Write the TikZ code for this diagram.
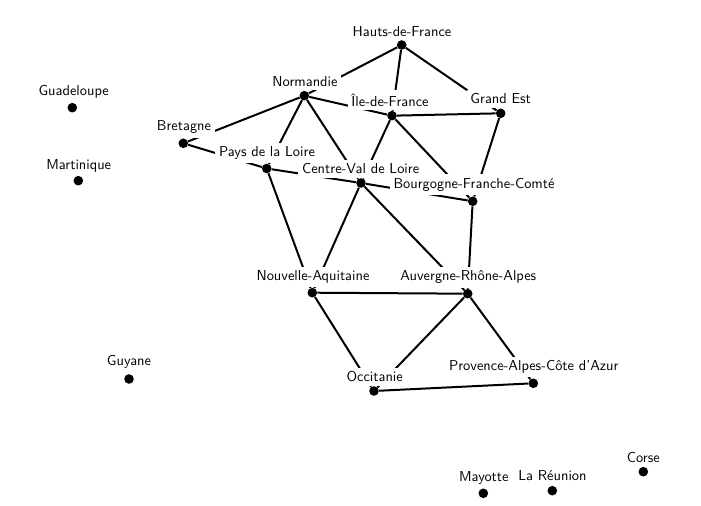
\documentclass[tikz,border=0pt]{standalone}
\usepackage{fontspec}
\pgfdeclarelayer{background}
\pgfdeclarelayer{foreground}
\pgfsetlayers{background,main,foreground}
\newcommand\regionpt[6]{%
  \begin{pgfonlayer}{foreground}
  \node[regiondot] (#1) at (#2,#3) {};
  \end{pgfonlayer}
  \node[regionlabel] (#1-lab) at (#4,#5) {#6};}
\begin{document}
\begin{tikzpicture}[x=0.75pt,y=-0.75pt,
  regiondot/.style={circle,fill=black,inner sep=0pt,minimum size=7.2pt},
  regionlabel/.style={fill=white,font=\sffamily\fontsize{10.8}{13}\selectfont,anchor=base,inner sep=2.8pt},
  link/.style={line width=1.5pt}]
\useasboundingbox (0,0) rectangle (701,506);
\regionpt{hdf}{401.7}{45}{402}{36.5}{Hauts-de-France}
\regionpt{nor}{304.3}{95.7}{305}{86.5}{Normandie}
\regionpt{idf}{392}{115.7}{390}{106.5}{Île-de-France}
\regionpt{ge}{500.7}{113.3}{500.7}{104}{Grand Est}
\regionpt{bre}{183.3}{143.3}{184}{131}{Bretagne}
\regionpt{pdl}{266.7}{168.5}{267}{156.7}{Pays de la Loire}
\regionpt{cvl}{361}{183}{360.7}{174}{Centre-Val de Loire}
\regionpt{bfc}{472.7}{201.3}{474}{188.3}{Bourgogne-Franche-Comté}
\regionpt{naq}{312.3}{292.7}{313}{280.7}{Nouvelle-Aquitaine}
\regionpt{ara}{467.7}{293.7}{468.3}{281}{Auvergne-Rhône-Alpes}
\regionpt{occ}{374}{391}{374.7}{381.7}{Occitanie}
\regionpt{pac}{533.3}{383.3}{533.8}{370.7}{Provence-Alpes-Côte d'Azur}
\regionpt{gua}{72.3}{107.7}{73.7}{95.7}{Guadeloupe}
\regionpt{mar}{78.3}{180.7}{78.7}{169.3}{Martinique}
\regionpt{guy}{129}{379}{129}{365.7}{Guyane}
\regionpt{may}{483.3}{493.3}{483.8}{481.7}{Mayotte}
\regionpt{reu}{552.3}{490.7}{552.5}{481}{La Réunion}
\regionpt{cor}{643.3}{471.7}{643.3}{462.7}{Corse}
\begin{pgfonlayer}{background}
\draw[link] (hdf) -- (nor);
\draw[link] (hdf) -- (idf);
\draw[link] (hdf) -- (ge);
\draw[link] (nor) -- (bre);
\draw[link] (nor) -- (pdl);
\draw[link] (nor) -- (cvl);
\draw[link] (nor) -- (idf);
\draw[link] (idf) -- (ge);
\draw[link] (idf) -- (cvl);
\draw[link] (idf) -- (bfc);
\draw[link] (ge) -- (bfc);
\draw[link] (bre) -- (pdl);
\draw[link] (pdl) -- (cvl);
\draw[link] (pdl) -- (naq);
\draw[link] (cvl) -- (bfc);
\draw[link] (cvl) -- (naq);
\draw[link] (cvl) -- (ara);
\draw[link] (bfc) -- (ara);
\draw[link] (naq) -- (ara);
\draw[link] (naq) -- (occ);
\draw[link] (ara) -- (occ);
\draw[link] (ara) -- (pac);
\draw[link] (occ) -- (pac);
\end{pgfonlayer}
\end{tikzpicture}
\end{document}
